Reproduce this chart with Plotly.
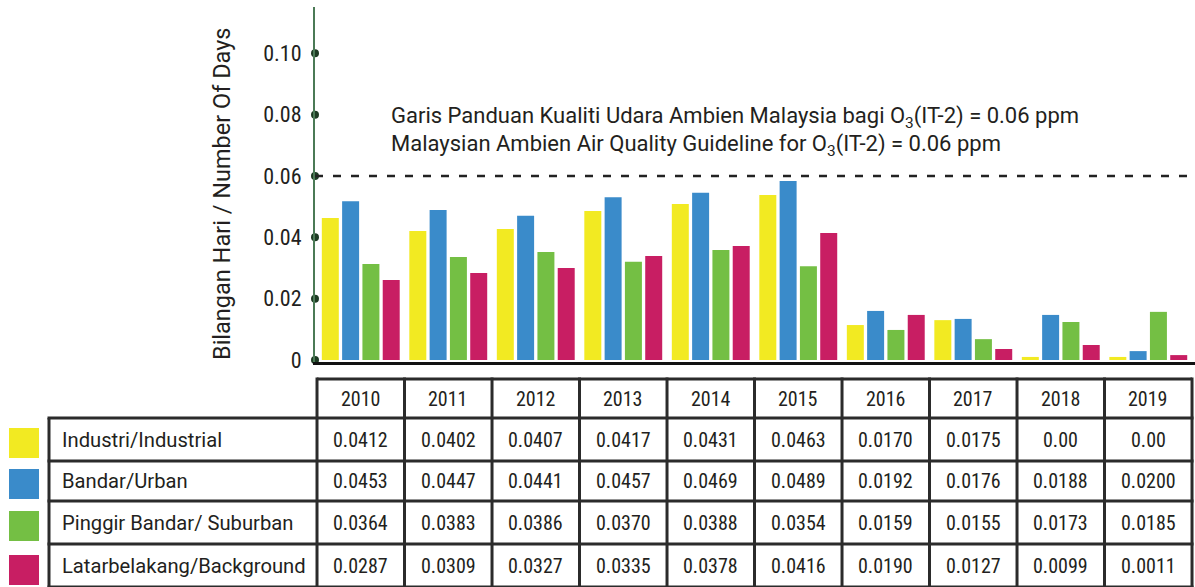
import plotly.graph_objects as go

# ---------------- data ----------------
years = ["2010", "2011", "2012", "2013", "2014", "2015", "2016", "2017", "2018", "2019"]
series_names = ["Industri/Industrial", "Bandar/Urban", "Pinggir Bandar/ Suburban", "Latarbelakang/Background"]
series_colors = ["#F2EA22", "#3A8BCA", "#74BF44", "#C81E63"]

# bar heights as drawn in the chart
industrial_bar = [0.0463, 0.0421, 0.0427, 0.0486, 0.0509, 0.0538, 0.0114, 0.0130, 0.0010, 0.0010]
urban_bar = [0.0518, 0.0489, 0.0470, 0.0531, 0.0545, 0.0584, 0.0160, 0.0134, 0.0147, 0.0029]
suburban_bar = [0.0313, 0.0336, 0.0352, 0.0320, 0.0359, 0.0306, 0.0098, 0.0068, 0.0124, 0.0157]
background_bar = [0.0261, 0.0284, 0.0300, 0.0339, 0.0372, 0.0414, 0.0147, 0.0036, 0.0049, 0.0016]

# values printed in the table
industrial_table = ["0.0412", "0.0402", "0.0407", "0.0417", "0.0431", "0.0463", "0.0170", "0.0175", "0.00", "0.00"]
urban_table = ["0.0453", "0.0447", "0.0441", "0.0457", "0.0469", "0.0489", "0.0192", "0.0176", "0.0188", "0.0200"]
suburban_table = ["0.0364", "0.0383", "0.0386", "0.0370", "0.0388", "0.0354", "0.0159", "0.0155", "0.0173", "0.0185"]
background_table = ["0.0287", "0.0309", "0.0327", "0.0335", "0.0378", "0.0416", "0.0190", "0.0127", "0.0099", "0.0011"]

y_tickvals = [0, 0.02, 0.04, 0.06, 0.08, 0.10]
y_ticktext = ["0", "0.02", "0.04", "0.06", "0.08", "0.10"]
guideline_value = 0.06
guideline_text_ms = "Garis Panduan Kualiti Udara Ambien Malaysia bagi O<sub>3</sub>(IT-2) = 0.06 ppm"
guideline_text_en = "Malaysian Ambien Air Quality Guideline for O<sub>3</sub>(IT-2) = 0.06 ppm"
y_title = "Bilangan Hari / Number Of Days"

bar_series = [industrial_bar, urban_bar, suburban_bar, background_bar]
table_series = [industrial_table, urban_table, suburban_table, background_table]

# ---------------- layout helpers ----------------
W, H = 1195, 587
def px(x):
    return min(max(x / W, 0.0), 1.0)
def py(y):
    return min(max(1 - y / H, 0.0), 1.0)

TEXT = "#231f20"
NARROW = "Roboto Condensed, Liberation Sans Narrow, DejaVu Sans Condensed, sans-serif"
REG = "Roboto, Liberation Sans, Arial, sans-serif"
LINEC = "#2b2b2b"

X_RANGE = [-0.523, 9.534]
Y_RANGE = [-0.00065, 0.1151]

xs = list(range(len(years)))

fig = go.Figure()
for name, vals, col in zip(series_names, bar_series, series_colors):
    fig.add_trace(go.Bar(x=xs, y=vals, name=name, marker=dict(color=col, line=dict(width=0)),
                         showlegend=False))

# dots on the y axis line
fig.add_trace(go.Scatter(x=[X_RANGE[0]] * len(y_tickvals), y=y_tickvals, mode="markers",
                         marker=dict(size=8, color="#1d3b23"), cliponaxis=False,
                         showlegend=False, hoverinfo="skip"))

shapes = []
annotations = []

# guideline dashed line
shapes.append(dict(type="line", xref="x", yref="y", x0=X_RANGE[0], x1=9.5,
                   y0=guideline_value, y1=guideline_value,
                   line=dict(color="#222222", width=2.5, dash="8px,10px")))
annotations.append(dict(text=guideline_text_ms, xref="paper", yref="paper", x=px(389), y=py(118),
                        xanchor="left", yanchor="middle", showarrow=False,
                        font=dict(family=REG, size=22, color=TEXT)))
annotations.append(dict(text=guideline_text_en, xref="paper", yref="paper", x=px(389), y=py(146),
                        xanchor="left", yanchor="middle", showarrow=False,
                        font=dict(family=REG, size=22, color=TEXT)))

# y-axis title
annotations.append(dict(text=y_title, xref="paper", yref="paper", x=px(222), y=py(194),
                        textangle=-90, showarrow=False, xanchor="center", yanchor="middle",
                        font=dict(family=REG, size=23.5, color=TEXT)))

# ---------------- table ----------------
header_top, row_lines = 379, [418, 461, 501, 544, 587]
label_left = 49
row_centers = [(row_lines[i] + row_lines[i + 1]) / 2 for i in range(4)]
header_center = (header_top + row_lines[0]) / 2

# horizontal lines
shapes.append(dict(type="line", xref="x", yref="paper", x0=-0.5, x1=9.5,
                   y0=py(header_top), y1=py(header_top), line=dict(color=LINEC, width=3)))
for yl in row_lines:
    shapes.append(dict(type="line", xref="paper", yref="paper", x0=px(label_left - 1.5), x1=px(1193.5),
                       y0=py(yl), y1=py(yl), line=dict(color=LINEC, width=3)))
# vertical lines
for k in range(len(years) + 1):
    shapes.append(dict(type="line", xref="x", yref="paper", x0=k - 0.5, x1=k - 0.5,
                       y0=py(header_top - 1.5), y1=0, line=dict(color=LINEC, width=3)))
shapes.append(dict(type="line", xref="paper", yref="paper", x0=px(label_left), x1=px(label_left),
                   y0=py(row_lines[0]), y1=0, line=dict(color=LINEC, width=3)))

for k, yr in enumerate(years):
    annotations.append(dict(text=yr, xref="x", yref="paper", x=k, y=py(header_center),
                            showarrow=False, xanchor="center", yanchor="middle",
                            font=dict(family=NARROW, size=20, color=TEXT)))

swatch_tops = [428, 469, 511, 555]
for i, (name, col, vals) in enumerate(zip(series_names, series_colors, table_series)):
    yc = py(row_centers[i])
    annotations.append(dict(text=name, xref="paper", yref="paper", x=px(60), y=yc,
                            showarrow=False, xanchor="left", yanchor="middle",
                            font=dict(family=REG, size=20.2, color=TEXT)))
    shapes.append(dict(type="rect", xref="paper", yref="paper", x0=px(9), x1=px(39),
                       y0=py(swatch_tops[i] + 30), y1=py(swatch_tops[i]),
                       fillcolor=col, line=dict(width=0)))
    for k, v in enumerate(vals):
        annotations.append(dict(text=v, xref="x", yref="paper", x=k, y=yc,
                                showarrow=False, xanchor="center", yanchor="middle",
                                font=dict(family=NARROW, size=20, color=TEXT)))

fig.update_layout(
    width=W, height=H, autosize=False,
    margin=dict(l=0, r=0, t=0, b=0, pad=0),
    paper_bgcolor="white", plot_bgcolor="white",
    barmode="group", bargap=0.072, bargroupgap=0.163,
    xaxis=dict(domain=[px(315), 1.0], range=X_RANGE, showgrid=False, zeroline=False,
               showline=True, linecolor="#111111", linewidth=3, automargin=False,
               ticks="", showticklabels=False, fixedrange=True),
    yaxis=dict(domain=[py(362), py(7)], range=Y_RANGE, showgrid=False, zeroline=False,
               showline=True, linecolor="#4b7a56", linewidth=2, automargin=False,
               tickvals=y_tickvals, ticktext=y_ticktext, ticks="",
               ticklabelstandoff=7,
               tickfont=dict(family=NARROW, size=22, color=TEXT), fixedrange=True),
    shapes=shapes, annotations=annotations,
    showlegend=False,
)

# remove the page's default body margin so the figure fills the window exactly
fig.write_html(
    "out.html",
    config={"displayModeBar": False},
    post_script="document.body.style.margin='0px';"
                "document.documentElement.style.overflow='hidden';"
                "document.body.style.overflow='hidden';window.scrollTo(0,0);",
)
